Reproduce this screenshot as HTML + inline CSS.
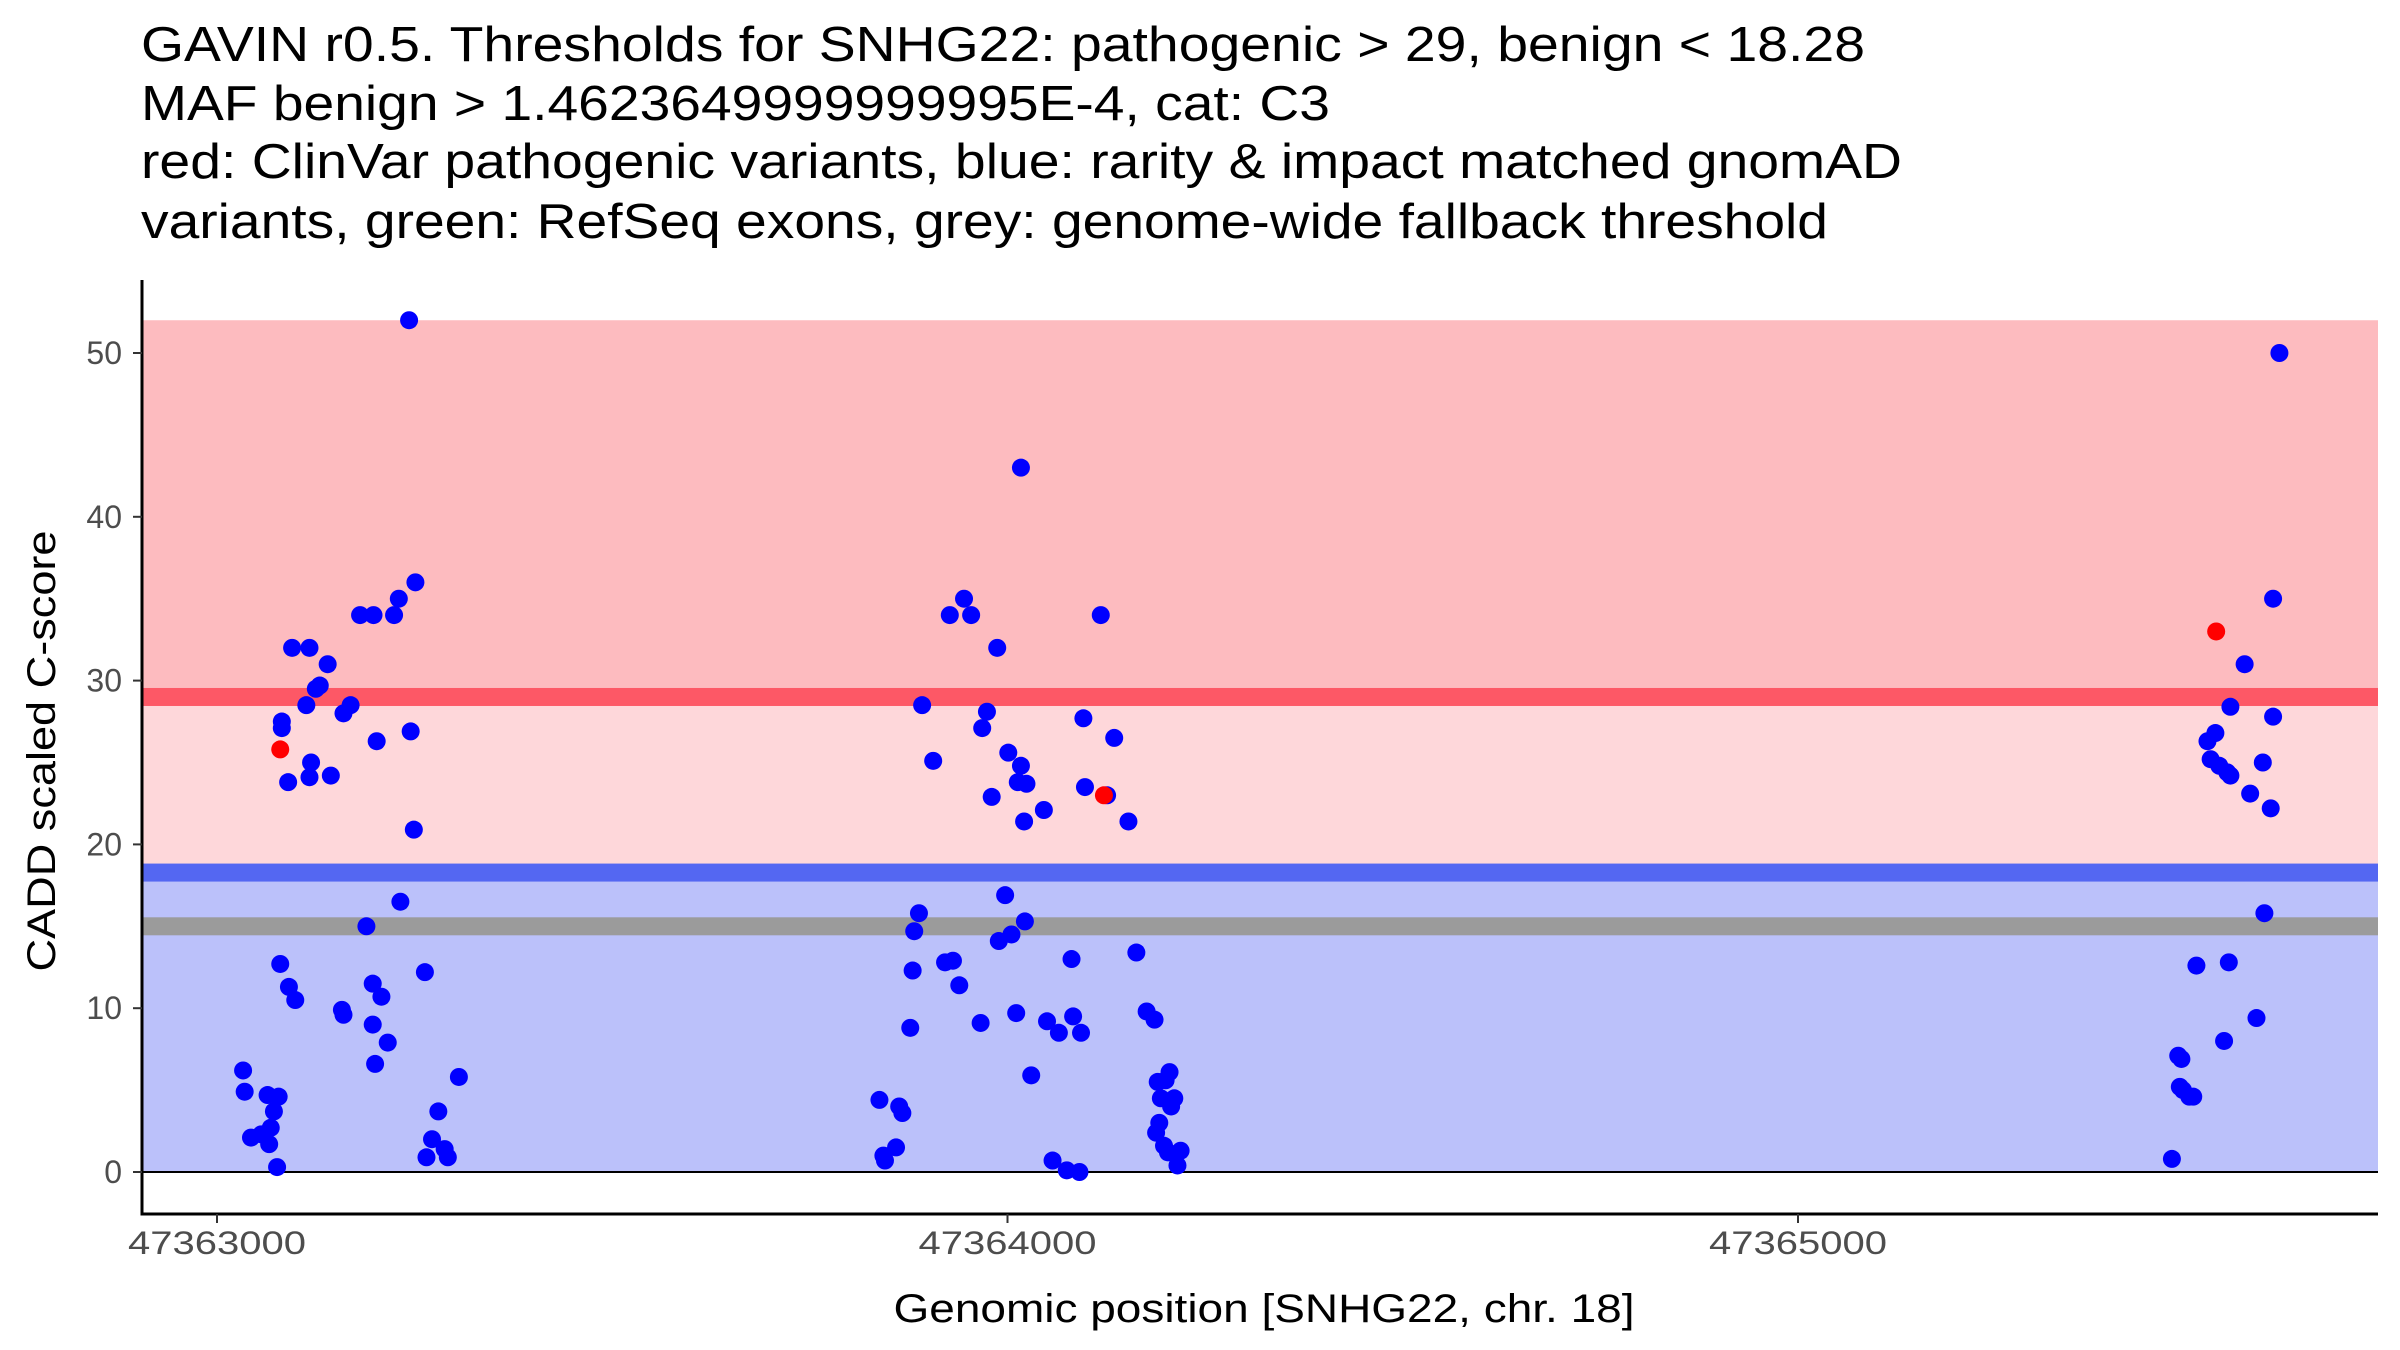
<!DOCTYPE html>
<html><head><meta charset="utf-8"><style>
body{margin:0;background:#fff;}
svg{display:block;font-family:"Liberation Sans",Arial,sans-serif;}
</style></head><body>
<svg id="chart" width="2400" height="1350" xmlns="http://www.w3.org/2000/svg">
<g font-size="49" fill="#000">
<text x="141" y="61" textLength="1724" lengthAdjust="spacingAndGlyphs">GAVIN r0.5. Thresholds for SNHG22: pathogenic &gt; 29, benign &lt; 18.28</text>
<text x="141" y="120" textLength="1189" lengthAdjust="spacingAndGlyphs">MAF benign &gt; 1.4623649999999995E-4, cat: C3</text>
<text x="141" y="178" textLength="1761" lengthAdjust="spacingAndGlyphs">red: ClinVar pathogenic variants, blue: rarity &amp; impact matched gnomAD</text>
<text x="141" y="238" textLength="1687" lengthAdjust="spacingAndGlyphs">variants, green: RefSeq exons, grey: genome-wide fallback threshold</text>
</g>
<g id="bands"></g>
<g id="points"></g>
<g id="axes"></g>
<text transform="translate(55,751) rotate(-90)" text-anchor="middle" font-size="40" textLength="441" lengthAdjust="spacingAndGlyphs">CADD scaled C-score</text>
<text x="1264" y="1322" text-anchor="middle" font-size="40" textLength="741" lengthAdjust="spacingAndGlyphs">Genomic position [SNHG22, chr. 18]</text>
</svg>
<script>
const benignPos=[47363033,47363035,47363043,47363056,47363064,47363068,47363066,47363072,47363076,47363078,47363080,47363082,47363082,47363090,47363091,47363095,47363099,47363113,47363117,47363119,47363117,47363125,47363130,47363140,47363144,47363158,47363160,47363160,47363169,47363181,47363189,47363197,47363197,47363198,47363200,47363202,47363208,47363216,47363224,47363230,47363232,47363243,47363245,47363249,47363251,47363263,47363265,47363272,47363280,47363288,47363292,47363306,
47363838,47363843,47363845,47363859,47363863,47363867,47363877,47363880,47363882,47363888,47363892,47363906,47363921,47363927,47363931,47363939,47363945,47363954,47363966,47363968,47363974,47363980,47363987,47363989,47363997,47364001,47364005,47364011,47364013,47364017,47364017,47364021,47364022,47364024,47364030,47364046,47364050,47364057,47364065,47364075,47364081,47364083,47364091,47364093,47364096,47364098,47364118,47364126,47364135,47364153,47364163,47364176,47364186,47364188,47364190,47364192,47364194,47364198,47364200,47364203,47364205,47364207,47364211,47364215,47364219,
47365473,47365481,47365483,47365485,47365487,47365495,47365500,47365504,47365518,47365522,47365528,47365533,47365539,47365543,47365545,47365547,47365547,47365565,47365572,47365580,47365588,47365590,47365598,47365601,47365601,47365609];
const benignScore=[6.2,4.9,2.1,2.3,4.7,2.7,1.7,3.7,0.3,4.6,12.7,27.5,27.1,23.8,11.3,32,10.5,28.5,32,25,24.1,29.5,29.7,31,24.2,9.9,9.6,28,28.5,34,15,11.5,9,34,6.6,26.3,10.7,7.9,34,35,16.5,52,26.9,20.9,36,12.2,0.9,2,3.7,1.4,0.9,5.8,
4.4,1,0.7,1.5,4,3.6,8.8,12.3,14.7,15.8,28.5,25.1,12.8,34,12.9,11.4,35,34,9.1,27.1,28.1,22.9,32,14.1,16.9,25.6,14.5,9.7,23.8,24.8,43,21.4,15.3,23.7,5.9,22.1,9.2,0.7,8.5,0.1,13,9.5,0,8.5,27.7,23.5,34,23,26.5,21.4,13.4,9.8,9.3,2.4,5.5,3,4.5,1.6,5.6,1.2,6.1,4,4.5,0.4,1.3,
0.8,7.1,5.2,6.9,5,4.6,4.6,12.6,26.3,25.2,26.8,24.8,8,24.4,12.8,28.4,24.2,31,23.1,9.4,25,15.8,22.2,27.8,35,50];
const pathoPos=[47363080,47364122,47365529];
const pathoScore=[25.8,23,33];
const xTicks=[47363000,47364000,47365000];
const yTicks=[0,10,20,30,40,50];
const thrPatho=29, thrBenign=18.28, thrFallback=15, maxScore=52;

const NS="http://www.w3.org/2000/svg";
const L=142,R=2378,B=1214,T=280;
function sx(v){return 217+(v-47363000)*0.7905;}
function sy(v){return 1172-v*16.38;}
function mk(tag,attrs,parent){const e=document.createElementNS(NS,tag);for(const k in attrs)e.setAttribute(k,attrs[k]);parent.appendChild(e);return e;}
const bands=document.getElementById('bands'),pts=document.getElementById('points'),axes=document.getElementById('axes');
let e;
e=mk('rect',{x:L,y:sy(maxScore),width:R-L,height:sy(thrPatho)-sy(maxScore),fill:'#fdbbbf'},bands);


e=mk('rect',{x:L,y:sy(thrPatho),width:R-L,height:sy(thrBenign)-sy(thrPatho),fill:'#fed7da'},bands);


e=mk('rect',{x:L,y:sy(thrBenign),width:R-L,height:sy(0)-sy(thrBenign),fill:'#bbc1fa'},bands);


e=mk('rect',{x:L,y:sy(thrPatho)-9,width:R-L,height:18,fill:'#fd5866'},bands);


e=mk('rect',{x:L,y:sy(thrBenign)-9,width:R-L,height:18,fill:'#5467f2'},bands);


e=mk('rect',{x:L,y:sy(thrFallback)-9,width:R-L,height:18,fill:'#9b9b9b'},bands);


e=mk('line',{x1:L,x2:R,y1:sy(0),y2:sy(0),stroke:'#000','stroke-width':2},bands);


for(let i=0;i<benignPos.length;i++){
 e=mk('circle',{cx:sx(benignPos[i]),cy:sy(benignScore[i]),r:9,fill:'#0000ff'},pts);
 
 
}
for(let i=0;i<pathoPos.length;i++){
 e=mk('circle',{cx:sx(pathoPos[i]),cy:sy(pathoScore[i]),r:9,fill:'#ff0000'},pts);
 
 
}
e=mk('line',{x1:L,x2:L,y1:T,y2:B+1.5,stroke:'#000','stroke-width':3},axes);


e=mk('line',{x1:L-1.5,x2:R,y1:B,y2:B,stroke:'#000','stroke-width':3},axes);


yTicks.forEach(v=>{
 e=mk('line',{x1:L-9,x2:L,y1:sy(v),y2:sy(v),stroke:'#333','stroke-width':2},axes);
 
 
 e=mk('text',{x:L-20,y:sy(v)+11,'text-anchor':'end','font-size':32,fill:'#4d4d4d'},axes);
 e.textContent=v;
 
 
});
xTicks.forEach(v=>{
 e=mk('line',{x1:sx(v),x2:sx(v),y1:B,y2:B+9,stroke:'#333','stroke-width':2},axes);
 
 
 e=mk('text',{x:sx(v),y:B+40,'text-anchor':'middle','font-size':32,fill:'#4d4d4d',textLength:178,lengthAdjust:'spacingAndGlyphs'},axes);
 e.textContent=v;
 
 
});
</script>
</body></html>
